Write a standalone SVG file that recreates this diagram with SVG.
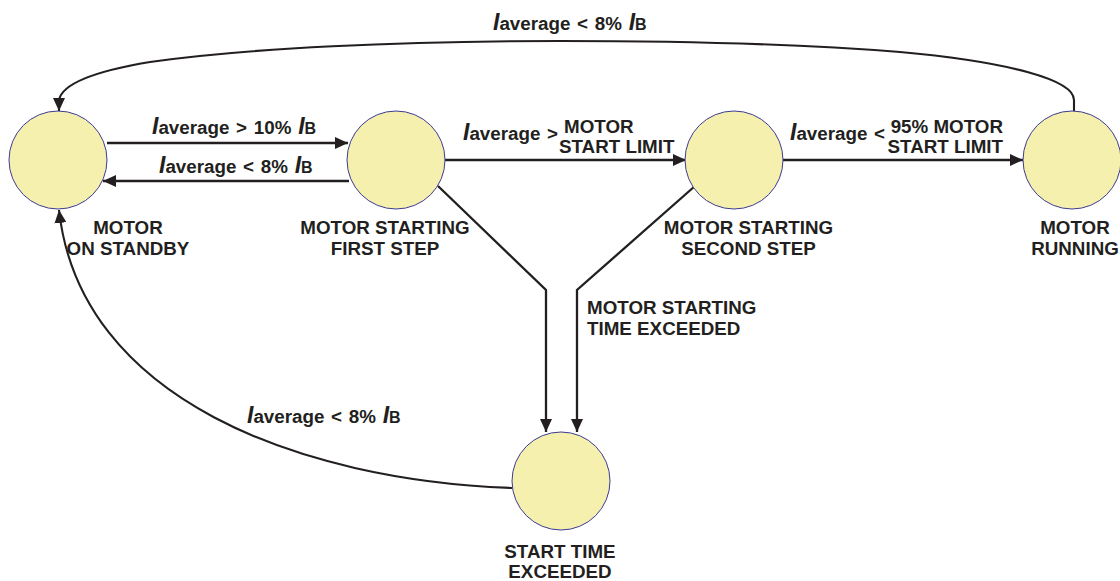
<svg xmlns="http://www.w3.org/2000/svg" width="1120" height="581" viewBox="0 0 1120 581">
<style>
text{font-family:"Liberation Sans",Arial,sans-serif;font-weight:bold;font-size:18.8px;fill:#231f20}
.m{text-anchor:middle}
.e{text-anchor:end}
.I{font-style:italic;font-size:23px}
.B{font-size:16px}
.lab{word-spacing:1.5px}
.node{fill:#f6f0ae;stroke:#3b3b96;stroke-width:1}
.c{fill:none;stroke:#231f20;stroke-width:2.3}
.c2{fill:none;stroke:#231f20;stroke-width:2.1}
</style>
<defs>
<marker id="ah" markerUnits="userSpaceOnUse" markerWidth="13" markerHeight="12" refX="13" refY="6" orient="auto">
<path d="M0,0 L13,6 L0,12 z" fill="#231f20"/>
</marker>
</defs>
<rect width="1120" height="581" fill="#ffffff"/>
<g id="connectors">
<path class="c2" d="M1074,111 V100 C1074,80 1010,62 900,52 C800,44 700,41 560,41 C400,41 250,48 150,62 C90,72 62,85 59,100 L59,111" marker-end="url(#ah)"/>
<path class="c" d="M107,143 H348" marker-end="url(#ah)"/>
<path class="c" d="M349,181 H103" marker-end="url(#ah)"/>
<path class="c" d="M445,160 H686" marker-end="url(#ah)"/>
<path class="c" d="M783,160 H1023" marker-end="url(#ah)"/>
<path class="c" d="M438,186 L546,290 V432" marker-end="url(#ah)"/>
<path class="c" d="M695,186 L577,290 V432" marker-end="url(#ah)"/>
<path class="c2" d="M512,488 C300,480 80,400 59,210" marker-end="url(#ah)"/>
</g>
<g id="edge-labels">
<text class="lab" x="493" y="30"><tspan class="I">I</tspan>average &lt; 8% <tspan class="I">I</tspan><tspan class="B">B</tspan></text>
<text class="lab" x="152" y="134.3"><tspan class="I">I</tspan>average &gt; 10% <tspan class="I">I</tspan><tspan class="B">B</tspan></text>
<text class="lab" x="159" y="172.5"><tspan class="I">I</tspan>average &lt; 8% <tspan class="I">I</tspan><tspan class="B">B</tspan></text>
<text class="lab" x="463" y="140"><tspan class="I">I</tspan>average &gt;</text>
<text x="564" y="132.5">MOTOR</text>
<text x="559" y="153">START LIMIT</text>
<text class="lab" x="790" y="140"><tspan class="I">I</tspan>average &lt;</text>
<text class="e" x="1003" y="132.5">95% MOTOR</text>
<text class="e" x="1003" y="153">START LIMIT</text>
<text x="587" y="314">MOTOR STARTING</text>
<text x="587" y="335">TIME EXCEEDED</text>
<text class="lab" x="247" y="423"><tspan class="I">I</tspan>average &lt; 8% <tspan class="I">I</tspan><tspan class="B">B</tspan></text>
</g>
<g id="node-standby">
<circle class="node" cx="58" cy="160" r="49"/>
<text class="m" x="128" y="234">MOTOR</text>
<text class="m" x="128" y="254.5">ON STANDBY</text>
</g>
<g id="node-first-step">
<circle class="node" cx="396" cy="160" r="49"/>
<text class="m" x="385" y="234">MOTOR STARTING</text>
<text class="m" x="385" y="254.5">FIRST STEP</text>
</g>
<g id="node-second-step">
<circle class="node" cx="734" cy="160" r="49"/>
<text class="m" x="748.5" y="234">MOTOR STARTING</text>
<text class="m" x="748.5" y="254.5">SECOND STEP</text>
</g>
<g id="node-running">
<circle class="node" cx="1072" cy="160" r="49"/>
<text class="m" x="1075" y="234">MOTOR</text>
<text class="m" x="1075" y="254.5">RUNNING</text>
</g>
<g id="node-start-time-exceeded">
<circle class="node" cx="561" cy="481" r="49"/>
<text class="m" x="560" y="557.5">START TIME</text>
<text class="m" x="560" y="577.5">EXCEEDED</text>
</g>
</svg>
